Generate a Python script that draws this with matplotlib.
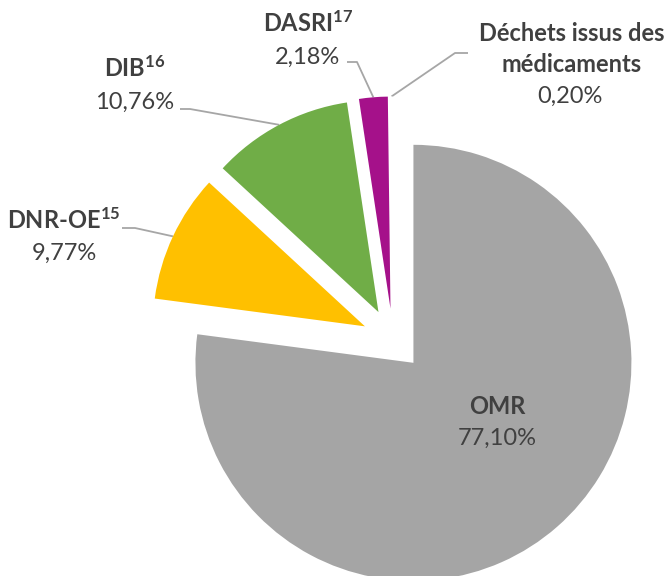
import numpy as np
import matplotlib
matplotlib.use("Agg")
import matplotlib.pyplot as plt

# ---- data ----
categories = ["OMR", "DNR-OE", "DIB", "DASRI", "Déchets issus des\nmédicaments"]
superscripts = ["", "15", "16", "17", ""]
values = [77.10, 9.77, 10.76, 2.18, 0.20]
value_labels = ["77,10%", "9,77%", "10,76%", "2,18%", "0,20%"]
colors = ["#A5A5A5", "#FFC000", "#70AD47", "#A5118A", "#FFFFFF"]

plt.rcParams['font.family'] = ['Lato', 'DejaVu Sans']
plt.rcParams['mathtext.fontset'] = 'custom'
plt.rcParams['mathtext.bf'] = 'Lato:bold'
plt.rcParams['mathtext.rm'] = 'Lato:bold'
plt.rcParams['mathtext.default'] = 'bf'

W, H = 669, 576
fig = plt.figure(figsize=(W / 100, H / 100), dpi=100)
ax = fig.add_axes([0, 0, 1, 1])

def yy(y_img):
    return H - y_img

center = (393.0, yy(339.5))
radius = 218
radius_exploded = 212
explode_px = 31

wedges, _ = ax.pie(values, colors=colors, startangle=90, counterclock=False,
                   radius=radius, center=center,
                   explode=[explode_px] * len(values),
                   wedgeprops=dict(linewidth=0), frame=True)
for w in wedges[1:]:
    w.set_radius(radius_exploded)

ax.set_xlim(0, W)
ax.set_ylim(0, H)
ax.set_aspect('equal')
ax.axis('off')

text_col = "#404040"
line_col = "#A6A6A6"
fs = 17

# label layout (image coords): (name_x, name_y, value_x, value_y)
layout = [
    (497, 407, 497, 438),
    (64, 220, 64, 253),
    (135, 68, 135, 102),
    (308, 23, 307, 57),
    (572, 49, 570, 96),
]
# leader start and elbow points (image coords), None for inside label
leaders = [
    None,
    [(122, 228), (135, 228)],
    [(180, 109), (190, 109)],
    [(347, 62), (357, 62)],
    [(468, 53), (455, 53)],
]

for i, w in enumerate(wedges):
    nx, ny, vx, vy = layout[i]
    name = categories[i]
    if superscripts[i]:
        name = name + r"$^{" + superscripts[i] + r"}$"
    ax.text(nx, yy(ny), name, ha='center', va='center', fontsize=fs,
            fontweight='bold', color=text_col, linespacing=1.45)
    ax.text(vx, yy(vy), value_labels[i], ha='center', va='center',
            fontsize=fs, color=text_col)
    if leaders[i] is not None:
        theta = np.deg2rad((w.theta1 + w.theta2) / 2)
        cx, cy = w.center
        tx = cx + w.r * np.cos(theta)
        ty = cy + w.r * np.sin(theta)
        pts = [(x, yy(y)) for x, y in leaders[i]] + [(tx, ty)]
        xs, ys = zip(*pts)
        ax.plot(xs, ys, color=line_col, lw=1.3, solid_capstyle='butt', zorder=0)

fig.savefig("out.png", dpi=100)
